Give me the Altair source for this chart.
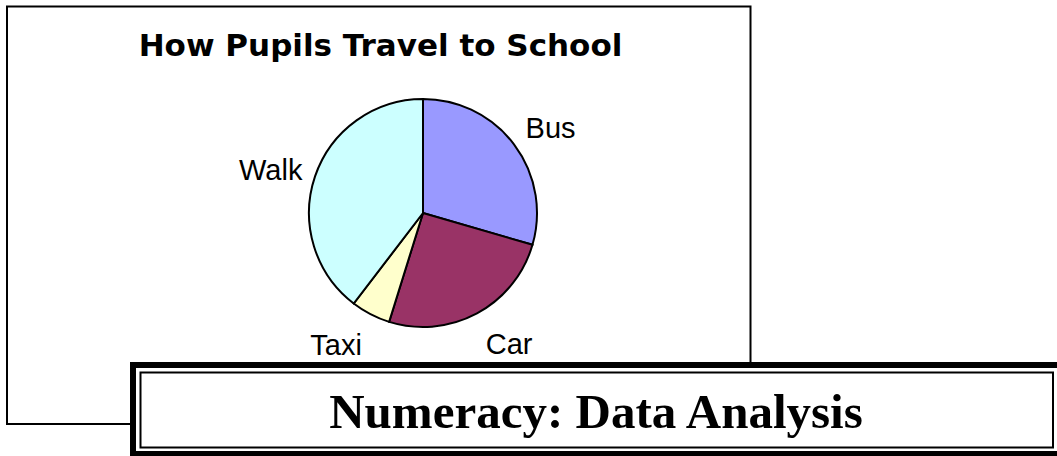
import altair as alt
import pandas as pd

# ---- data ----
categories = ["Bus", "Car", "Taxi", "Walk"]
shares = [29.5, 25.3, 5.6, 39.6]          # percent of pupils
colors = ["#9999FF", "#993366", "#FFFFCC", "#CCFFFF"]
title_text = "How Pupils Travel to School"
banner_text = "Numeracy: Data Analysis"

df = pd.DataFrame({"category": categories, "value": shares, "idx": list(range(len(categories)))})
one = pd.DataFrame({"k": [0]})

CX, CY, R = 423, 213, 114

frame = alt.Chart(one).mark_rect(fill="white", stroke="black", strokeWidth=2).encode(
    x=alt.value(7), x2=alt.value(750.5), y=alt.value(6.5), y2=alt.value(424)
)

title = alt.Chart(one).mark_text(
    font="DejaVu Sans", fontWeight="bold", fontSize=31, align="center", baseline="alphabetic", color="black"
).encode(x=alt.value(380.5), y=alt.value(56), text=alt.value(title_text))

pie = alt.Chart(df).mark_arc(outerRadius=R, stroke="black", strokeWidth=2).encode(
    theta=alt.Theta("value:Q", stack=True),
    color=alt.Color("category:N", scale=alt.Scale(domain=categories, range=colors), legend=None),
    order=alt.Order("idx:Q"),
    x=alt.value(CX),
    y=alt.value(CY),
)

labels = (
    alt.Chart(df)
    .transform_joinaggregate(total="sum(value)")
    .transform_window(cum="sum(value)", sort=[alt.SortField("idx")], frame=[None, 0])
    .transform_calculate(
        mid="(datum.cum - datum.value/2) / datum.total * 2 * PI",
        s="sin(datum.mid)",
        c="cos(datum.mid)",
        lx=f"{CX} + 122 * datum.s + (datum.s > 0 ? 5 : -5)",
        ly=f"{CY} - 122 * datum.c - datum.c * abs(datum.c) * 31",
    )
    .mark_text(
        font="Liberation Sans", fontSize=29, baseline="middle", color="black",
        align=alt.ExprRef(expr="datum.s > 0 ? 'left' : 'right'"),
    )
    .encode(x=alt.X("lx:Q", scale=None), y=alt.Y("ly:Q", scale=None), text="category:N")
)

banner_outer = alt.Chart(one).mark_rect(fill="white", stroke="black", strokeWidth=6).encode(
    x=alt.value(133), x2=alt.value(1066), y=alt.value(365), y2=alt.value(454)
)
banner_inner = alt.Chart(one).mark_rect(fill="white", stroke="black", strokeWidth=2).encode(
    x=alt.value(140.5), x2=alt.value(1053), y=alt.value(372.5), y2=alt.value(447.5)
)
banner = alt.Chart(one).mark_text(
    font="Liberation Serif", fontWeight="bold", fontSize=49, align="center", baseline="alphabetic", color="black"
).encode(x=alt.value(596), y=alt.value(428), text=alt.value(banner_text))

chart = (
    alt.layer(frame, title, pie, labels, banner_outer, banner_inner, banner)
    .properties(width=1057, height=456, padding=0, autosize="none", background="white")
    .configure_view(stroke=None)
)

chart.save("out.html", embed_options={"renderer": "svg", "actions": False})
